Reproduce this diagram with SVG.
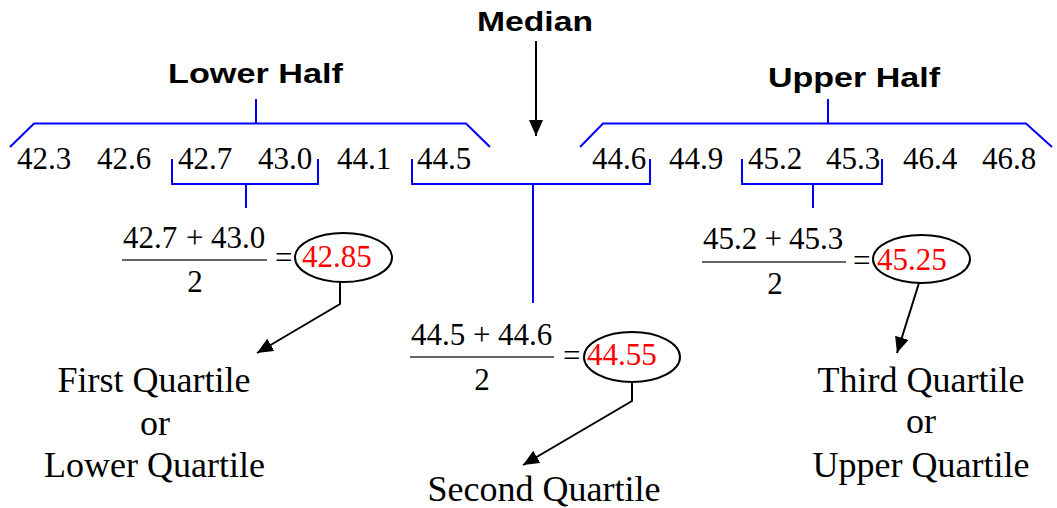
<svg xmlns="http://www.w3.org/2000/svg" width="1057" height="508" viewBox="0 0 1057 508">
<defs>
<marker id="ah" markerUnits="userSpaceOnUse" markerWidth="18" markerHeight="16" refX="16" refY="7" orient="auto">
<path d="M0,0 L16,7 L0,14 Z" fill="#000"/>
</marker>
<style>
.hd{font-family:"Liberation Sans",Arial,sans-serif;font-weight:bold;font-size:27px;fill:#000}
.lb{font-family:"Liberation Serif","Times New Roman",serif;font-size:36px;fill:#000;text-anchor:middle}
.bl{fill:none;stroke:#0000ff;stroke-width:2}
.fr{stroke:#333;stroke-width:1.5}
.el{fill:none;stroke:#000;stroke-width:2}
.cn{fill:none;stroke:#000;stroke-width:2}
</style>
</defs>
<rect width="1057" height="508" fill="#fff"/>

<g id="headings">
<text class="hd" x="477" y="31" textLength="116" lengthAdjust="spacingAndGlyphs">Median</text>
<text class="hd" x="168" y="83" textLength="175" lengthAdjust="spacingAndGlyphs">Lower Half</text>
<text class="hd" x="768" y="87" textLength="172" lengthAdjust="spacingAndGlyphs">Upper Half</text>
</g>

<g id="data" font-family="Liberation Serif" font-size="31" fill="#000">
<text x="17" y="169">42.3</text>
<text x="97" y="169">42.6</text>
<text x="178" y="169">42.7</text>
<text x="258" y="169">43.0</text>
<text x="337" y="169">44.1</text>
<text x="417" y="169">44.5</text>
<text x="592" y="169">44.6</text>
<text x="669" y="169">44.9</text>
<text x="748" y="169">45.2</text>
<text x="826" y="169">45.3</text>
<text x="903" y="169">46.4</text>
<text x="982" y="169">46.8</text>
</g>

<g id="brackets">
<path class="bl" d="M10,147 L34,123.5 L466,123.5 L490,147 M256,99 L256,123.5"/>
<path class="bl" d="M580,147 L603,123.5 L1026,123.5 L1052,147 M828,99 L828,123.5"/>
<path class="bl" d="M172,159 L172,184 L318,184 L318,159 M246,184 L246,208"/>
<path class="bl" d="M412,159 L412,184 L650,184 L650,159 M533,184 L533,303"/>
<path class="bl" d="M742,159 L742,184 L882,184 L882,159 M813,184 L813,208"/>
</g>

<g id="q1-formula" font-family="Liberation Serif" font-size="31" fill="#000">
<text x="123" y="248">42.7</text>
<text x="186" y="248">+</text>
<text x="211" y="248">43.0</text>
<line class="fr" x1="122" y1="260" x2="267" y2="260"/>
<text x="195" y="292" text-anchor="middle">2</text>
<text x="275" y="268">=</text>
<ellipse class="el" cx="343.5" cy="257.5" rx="48.5" ry="24.5"/>
<text x="302" y="267" fill="#ff0000">42.85</text>
</g>

<g id="q2-formula" font-family="Liberation Serif" font-size="31" fill="#000">
<text x="411" y="345">44.5</text>
<text x="473" y="345">+</text>
<text x="498" y="345">44.6</text>
<line class="fr" x1="410" y1="357" x2="554" y2="357"/>
<text x="482" y="390" text-anchor="middle">2</text>
<text x="563" y="366">=</text>
<ellipse class="el" cx="632" cy="357" rx="48" ry="25"/>
<text x="587" y="365" fill="#ff0000">44.55</text>
</g>

<g id="q3-formula" font-family="Liberation Serif" font-size="31" fill="#000">
<text x="703" y="249">45.2</text>
<text x="764.5" y="249">+</text>
<text x="789" y="249">45.3</text>
<line class="fr" x1="702" y1="262" x2="846" y2="262"/>
<text x="775" y="294" text-anchor="middle">2</text>
<text x="853" y="271">=</text>
<ellipse class="el" cx="921.5" cy="259" rx="48.5" ry="24"/>
<text x="877" y="270" fill="#ff0000">45.25</text>
</g>

<g id="q1-label">
<text class="lb" x="154" y="392">First Quartile</text>
<text class="lb" x="155" y="435">or</text>
<text class="lb" x="154.5" y="477">Lower Quartile</text>
</g>

<g id="q2-label">
<text class="lb" x="544" y="501">Second Quartile</text>
</g>

<g id="q3-label">
<text class="lb" x="921" y="392">Third Quartile</text>
<text class="lb" x="921" y="433">or</text>
<text class="lb" x="921" y="477">Upper Quartile</text>
</g>

<g id="connectors">
<line class="cn" x1="536" y1="41" x2="536" y2="136" marker-end="url(#ah)"/>
<polyline class="cn" points="340,282 340,304 257,353" marker-end="url(#ah)"/>
<polyline class="cn" points="632,382 632,401 523,465" marker-end="url(#ah)"/>
<line class="cn" x1="919" y1="283" x2="897" y2="353" marker-end="url(#ah)"/>
</g>
</svg>
